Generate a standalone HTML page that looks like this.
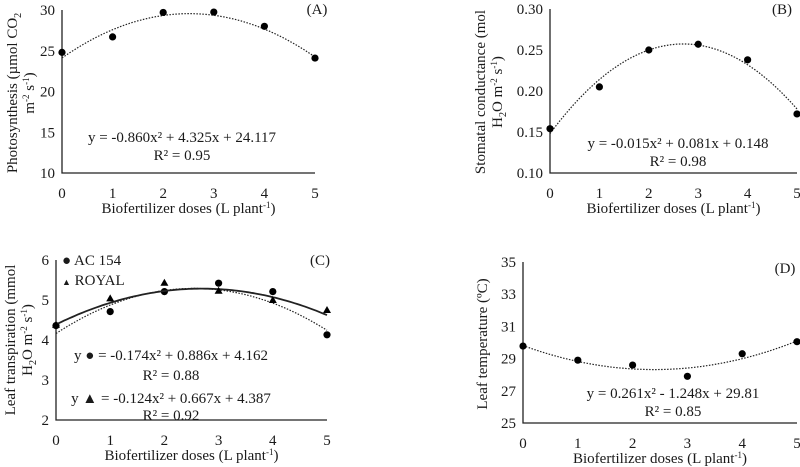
<!DOCTYPE html>
<html><head><meta charset="utf-8"><style>
html,body{margin:0;padding:0;background:#fff;}
svg{display:block;font-family:"Liberation Serif",serif;}
text{fill:#1a1a1a;}
</style></head><body>
<svg id="chart" width="800" height="467" viewBox="0 0 800 467" xmlns="http://www.w3.org/2000/svg"></svg>
<script>
const doses = [0,1,2,3,4,5];
const photoVals = [24.8,26.7,29.7,29.75,28.0,24.1];
const photoCoef = [-0.860,4.325,24.117];
const photoTicks = [10,15,20,25,30];
const gsVals = [0.154,0.205,0.250,0.257,0.238,0.172];
const gsCoef = [-0.015,0.081,0.148];
const gsTicks = [0.10,0.15,0.20,0.25,0.30];
const transAcVals = [4.36,4.71,5.21,5.42,5.21,4.13];
const transAcCoef = [-0.174,0.886,4.162];
const transRoyalVals = [4.38,5.04,5.43,5.23,5.0,4.75];
const transRoyalCoef = [-0.124,0.667,4.387];
const transTicks = [2,3,4,5,6];
const tempVals = [29.78,28.9,28.6,27.9,29.3,30.05];
const tempCoef = [0.261,-1.248,29.81];
const tempTicks = [25,27,29,31,33,35];

const NS="http://www.w3.org/2000/svg";
const svg=document.getElementById('chart');
function el(tag,attrs,parent){const e=document.createElementNS(NS,tag);for(const k in attrs)e.setAttribute(k,attrs[k]);(parent||svg).appendChild(e);return e;}
function txt(s,x,y,attrs,parent){const t=el('text',Object.assign({x:x,y:y},attrs||{}),parent);t.innerHTML=s;return t;}

function panel(p){
  const g=el('g',{});
  
  
  const sx=v=>p.x0+(v-0)/5*(p.x1-p.x0);
  const sy=v=>p.y0-(v-p.ymin)/(p.ymax-p.ymin)*(p.y0-p.y1);
  const ax=el('path',{d:`M${p.x0},${p.y1} V${p.y0} H${p.x1}`,fill:'none',stroke:'#222','stroke-width':1.3},g);
  
  
  p.ticks.forEach(v=>{
    const t=txt(p.fmt(v),p.x0-7,sy(v)+5,{'font-size':15,'text-anchor':'end'},g);
    
    
  });
  doses.forEach(v=>{
    const t=txt(String(v),sx(v),p.y0+25,{'font-size':15,'text-anchor':'middle'},g);
    
    
  });
  const xt=txt('Biofertilizer  doses  (L plant<tspan dy="-5" font-size="9">-1</tspan><tspan dy="5">)</tspan>',(p.x0+p.x1)/2,p.y0+40,{'font-size':15,'text-anchor':'middle'},g);
  
  
  const yt=el('g',{transform:`translate(${p.ytx},${p.yty}) rotate(-90)`},g);
  
  
  p.ytitle.forEach((l,i)=>txt(l,0,i*17,{'font-size':15,'text-anchor':'middle'},yt));
  const lt=txt(p.letter,p.lx,p.ly,{'font-size':15,'text-anchor':'middle'},g);
  
  
  p.series.forEach(s=>{
    let d='';
    for(let i=0;i<=100;i++){const x=i/20;const y=s.coef[0]*x*x+s.coef[1]*x+s.coef[2];d+=(i?'L':'M')+sx(x).toFixed(1)+','+sy(y).toFixed(1);}
    const tl=el('path',{d:d,fill:'none',stroke:'#222','stroke-width':s.solid?1.8:1.2,'stroke-dasharray':s.solid?'none':'1.5 1.5'},g);
    
    
    s.vals.forEach((v,i)=>{
      let m;
      if(s.tri){const cx=sx(doses[i]),cy=sy(v);m=el('path',{d:`M${cx},${cy-4} L${cx+4},${cy+3} L${cx-4},${cy+3}Z`,fill:'#000'},g);}
      else m=el('circle',{cx:sx(doses[i]),cy:sy(v),r:3.6,fill:'#000'},g);
      
      
    });
  });
  p.eq.forEach(e=>{
    const t=txt(e[0],e[1],e[2],{'font-size':15,'text-anchor':'middle'},g);
    
    
  });
  return g;
}

panel({name:'panel-a-photosynthesis',x0:62,x1:315,y0:173,y1:10,ymin:10,ymax:30,ticks:photoTicks,fmt:v=>String(v),
  ytx:17,yty:93,ytitle:['Photosynthesis (µmol CO<tspan dy="4" font-size="10">2</tspan>','<tspan dy="-4"></tspan>m<tspan dy="-5" font-size="9">-2</tspan><tspan dy="5"> s</tspan><tspan dy="-5" font-size="9">-1</tspan><tspan dy="5">)</tspan>'],
  letter:'(A)',lx:317,ly:14,series:[{vals:photoVals,coef:photoCoef}],
  eq:[['y = -0.860x² + 4.325x + 24.117',182,142],['R² = 0.95',182,160]]});

panel({name:'panel-b-stomatal-conductance',x0:550,x1:797,y0:173,y1:9,ymin:0.10,ymax:0.30,ticks:gsTicks,fmt:v=>v.toFixed(2),
  ytx:485,yty:92,ytitle:['Stomatal conductance (mol','H<tspan dy="4" font-size="10">2</tspan><tspan dy="-4">O m</tspan><tspan dy="-5" font-size="9">-2</tspan><tspan dy="5"> s</tspan><tspan dy="-5" font-size="9">-1</tspan><tspan dy="5">)</tspan>'],
  letter:'(B)',lx:782,ly:14,series:[{vals:gsVals,coef:gsCoef}],
  eq:[['y = -0.015x² + 0.081x + 0.148',678,148],['R² = 0.98',678,166]]});

panel({name:'panel-c-leaf-transpiration',x0:56,x1:327,y0:420,y1:260,ymin:2,ymax:6,ticks:transTicks,fmt:v=>String(v),
  ytx:15,yty:340,ytitle:['Leaf transpiration (mmol','H<tspan dy="4" font-size="10">2</tspan><tspan dy="-4">O m</tspan><tspan dy="-5" font-size="9">-2</tspan><tspan dy="5"> s</tspan><tspan dy="-5" font-size="9">-1</tspan><tspan dy="5">)</tspan>'],
  letter:'(C)',lx:320,ly:265,series:[{vals:transAcVals,coef:transAcCoef},{vals:transRoyalVals,coef:transRoyalCoef,tri:true,solid:true}],
  eq:[['y ● = -0.174x² + 0.886x + 4.162',171,360],['R² = 0.88',171,380],['y ▲ = -0.124x² + 0.667x + 4.387',171,403],['R² = 0.92',171,420]]});

const leg=el('g',{});


const l1=txt('● AC 154',62,265,{'font-size':15},leg);


const l2=txt('<tspan font-size="9">▲</tspan> ROYAL',62,285,{'font-size':15},leg);



panel({name:'panel-d-leaf-temperature',x0:523,x1:797,y0:423,y1:262,ymin:25,ymax:35,ticks:tempTicks,fmt:v=>String(v),
  ytx:487,yty:344,ytitle:['Leaf temperature (ºC)'],
  letter:'(D)',lx:785,ly:273,series:[{vals:tempVals,coef:tempCoef}],
  eq:[['y = 0.261x² - 1.248x + 29.81',673,398],['R² = 0.85',673,416]]});
</script>
</body></html>
